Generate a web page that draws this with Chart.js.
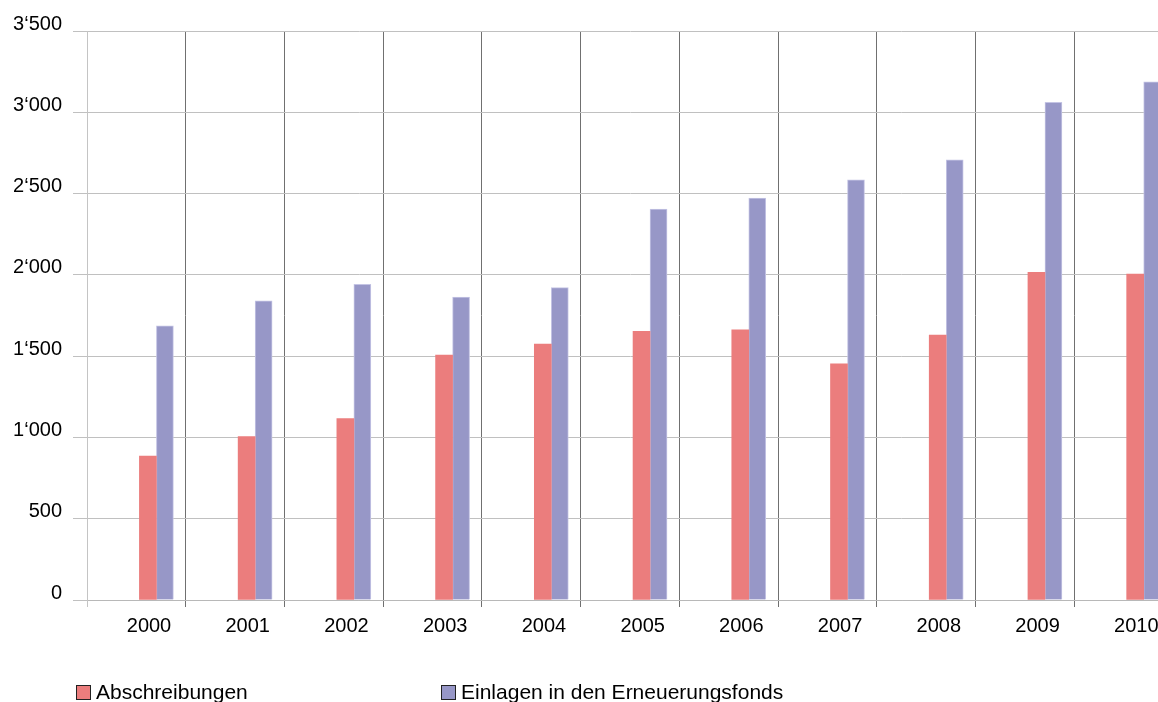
<!DOCTYPE html>
<html lang="de">
<head>
<meta charset="utf-8">
<title>Abschreibungen und Einlagen in den Erneuerungsfonds</title>
<script src="https://cdn.jsdelivr.net/npm/chart.js@4.4.1/dist/chart.umd.min.js"></script>
<style>
    html, body { margin: 0; padding: 0; background: #fff; overflow: hidden; }
    #wrap { position: relative; width: 1158px; height: 702px; overflow: hidden; }
    #fondsChart { position: absolute; left: 0; top: 0; }
    #legend { position: absolute; left: 0; top: 680px; width: 1158px; height: 24px;
              font: 21px "Liberation Sans", Arial, sans-serif; color: #000; }
    .legend-item { position: absolute; top: 0; display: flex; align-items: center; white-space: nowrap; line-height: 24px; }
    .legend-box { width: 13px; height: 13px; border: 1px solid #222; margin-right: 5px; }
</style>
</head>
<body>
<div id="wrap">
    <canvas id="fondsChart" width="1180" height="702"></canvas>
    <div id="legend"></div>
</div>
<script>
// Werte in 1'000 CHF
const years = [2000, 2001, 2002, 2003, 2004, 2005, 2006, 2007, 2008, 2009, 2010];
const abschreibungen = [886, 1005, 1116, 1506, 1574, 1652, 1662, 1452, 1629, 2015, 2005];
const einlagen = [1687, 1841, 1942, 1863, 1921, 2405, 2473, 2584, 2707, 3062, 3187];
const yTicks = [0, 500, 1000, 1500, 2000, 2500, 3000, 3500];
const seriesNames = ["Abschreibungen", "Einlagen in den Erneuerungsfonds"];
const seriesColors = ["#eb7d7d", "#9797c7"];

// the year separators sit a bit left of the bar pairs
const SEP_SHIFT = 0.703;
const legendLeft = [76, 441];
const FONT = { family: "'Liberation Sans', Arial, sans-serif", size: 20 };

function formatThousands(v) {
    if (v < 1000) return String(v);
    return Math.floor(v / 1000) + "\u2018" + String(v % 1000).padStart(3, "0");
}

// small html legend, placed freely below the chart
const htmlLegend = {
    id: "htmlLegend",
    afterUpdate(chart) {
        const box = document.getElementById("legend");
        box.innerHTML = "";
        const items = Chart.defaults.plugins.legend.labels.generateLabels(chart);
        items.forEach((item, i) => {
            const el = document.createElement("div");
            el.className = "legend-item";
            el.style.left = legendLeft[i] + "px";
            const sw = document.createElement("span");
            sw.className = "legend-box";
            sw.style.background = seriesColors[i];
            const txt = document.createElement("span");
            txt.textContent = item.text;
            el.appendChild(sw);
            el.appendChild(txt);
            box.appendChild(el);
        });
    }
};

const ctx = document.getElementById("fondsChart").getContext("2d");
new Chart(ctx, {
    type: "bar",
    data: {
        labels: years,
        datasets: [{
            label: seriesNames[0],
            data: abschreibungen,
            backgroundColor: seriesColors[0],
            borderWidth: 0,
            barThickness: 17
        }, {
            label: seriesNames[1],
            data: einlagen,
            backgroundColor: seriesColors[1],
            borderColor: "#c4c4e4",
            borderWidth: 1,
            barThickness: 17
        }]
    },
    options: {
        responsive: false,
        animation: false,
        layout: { padding: { left: 0, top: 31, right: 4, bottom: 42 } },
        plugins: {
            legend: { display: false },
            tooltip: { enabled: false }
        },
        scales: {
            x: {
                type: "linear",
                offset: false,
                min: years[0] - SEP_SHIFT,
                max: years[years.length - 1] + 1 - SEP_SHIFT,
                afterBuildTicks: function (scale) {
                    scale.ticks = years.concat([years[years.length - 1] + 1])
                        .map(y => ({ value: y - SEP_SHIFT }));
                },
                afterFit: function (scale) { scale.height = 60; },
                grid: {
                    offset: false,
                    color: c => c.index === 0 ? "#c4c4c4" : "#707070",
                    tickLength: 7
                },
                border: { color: "#b8b8b8" },
                ticks: {
                    autoSkip: false,
                    maxRotation: 0,
                    padding: 7,
                    labelOffset: 62,
                    color: "#000",
                    font: FONT,
                    callback: (value, index) => years[index] !== undefined ? String(years[index]) : ""
                }
            },
            y: {
                min: 0,
                max: 3500,
                afterBuildTicks: function (scale) {
                    scale.ticks = yTicks.map(v => ({ value: v }));
                },
                afterFit: function (scale) { scale.width = 87; },
                grid: { color: "#c0c0c0", tickLength: 14 },
                border: { color: "#c4c4c4" },
                ticks: {
                    padding: 11,
                    labelOffset: -7,
                    color: "#000",
                    font: FONT,
                    callback: v => formatThousands(v)
                }
            }
        }
    },
    plugins: [htmlLegend]
});
</script>
</body>
</html>
